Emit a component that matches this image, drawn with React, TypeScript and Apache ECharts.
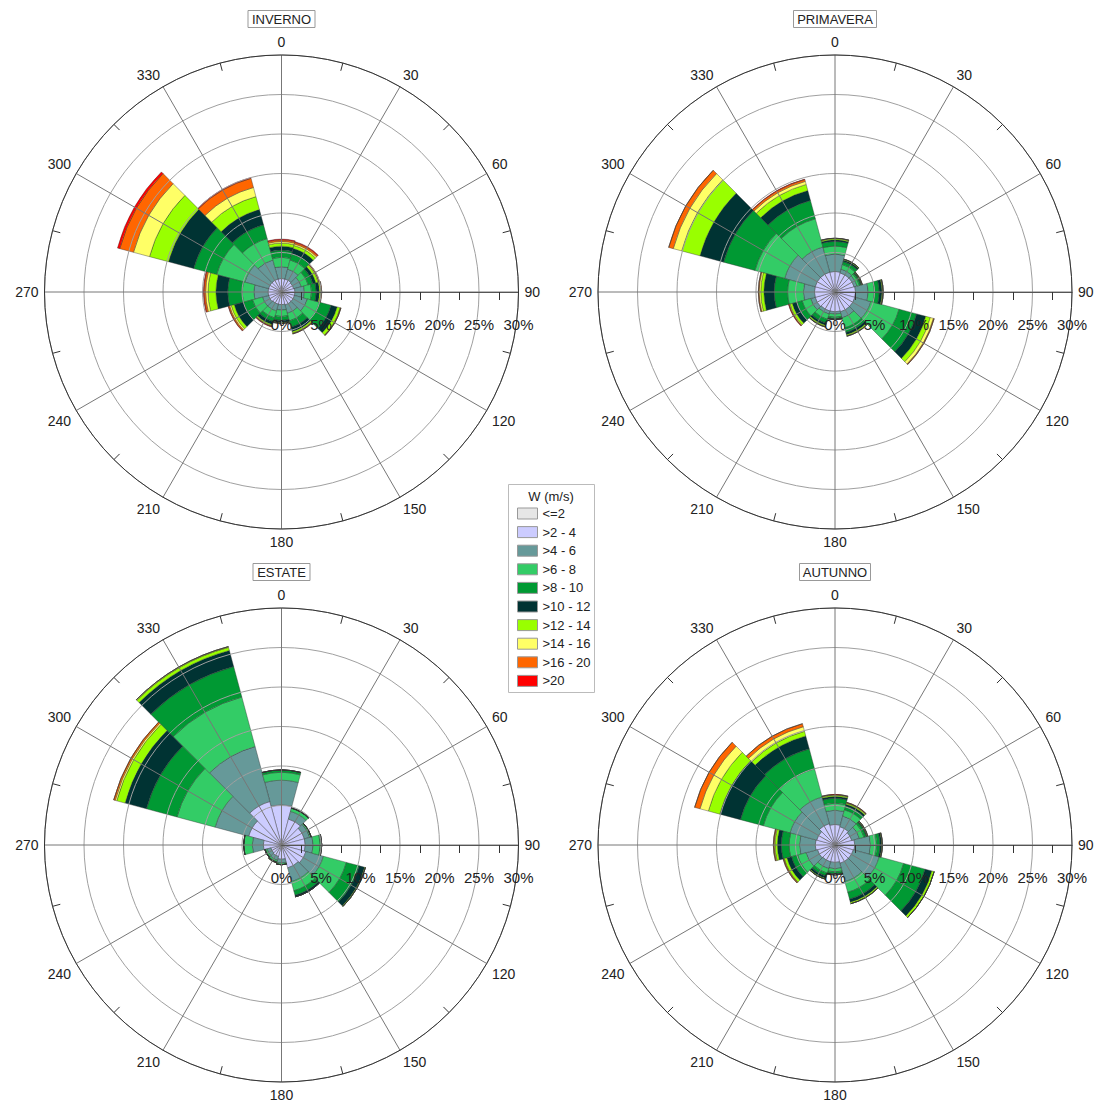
import React, { useEffect, useRef } from "react";
import * as echarts from "echarts";

const DIRECTIONS = ["0", "30", "60", "90", "120", "150", "180", "210", "240", "270", "300", "330"];
const CLASSES = ["<=2", ">2 - 4", ">4 - 6", ">6 - 8", ">8 - 10", ">10 - 12", ">12 - 14", ">14 - 16", ">16 - 20", ">20"];
const COLORS = ["#e6e6e6", "#ccccff", "#669999", "#33cc66", "#009933", "#003333", "#99ff00", "#ffff66", "#ff6600", "#ff0000"];
const SEASONS = ["INVERNO", "PRIMAVERA", "ESTATE", "AUTUNNO"];
const RADIUS_TICKS = [0, 5, 10, 15, 20, 25, 30];
const ANGLE_LABELS = ["90", "120", "150", "180", "210", "240", "270", "300", "330", "0", "30", "60"];

// frequency (%) per direction (rows, 0..330) and speed class (columns, <=2 .. >20)
const INVERNO = [
  [0.1, 1.6, 1.5, 1.2, 0.9, 0.5, 0.4, 0.2, 0.2, 0.1],
  [0.1, 1.6, 1.3, 1.2, 0.8, 0.7, 0.4, 0.2, 0.2, 0.1],
  [0.1, 1.5, 1.0, 0.9, 0.6, 0.4, 0.3, 0.1, 0.05, 0.05],
  [0.1, 1.6, 1.2, 0.9, 0.6, 0.4, 0.2, 0.05, 0.05, 0],
  [0.1, 1.6, 1.7, 1.6, 1.5, 0.8, 0.4, 0.05, 0.05, 0],
  [0.1, 1.6, 1.1, 1.0, 0.8, 0.6, 0.2, 0.05, 0.05, 0],
  [0.1, 1.5, 0.7, 0.8, 0.5, 0.25, 0.1, 0.05, 0, 0],
  [0.1, 1.5, 0.9, 0.9, 0.5, 0.4, 0.15, 0.05, 0.05, 0.05],
  [0.1, 1.6, 0.8, 1.3, 1.2, 1.2, 0.4, 0.2, 0.15, 0.05],
  [0.1, 1.6, 1.8, 1.5, 1.8, 1.5, 1.0, 0.3, 0.2, 0.1],
  [0.1, 1.6, 3.1, 3.7, 3.0, 3.3, 2.5, 2.1, 1.8, 0.3],
  [0.1, 1.6, 2.5, 2.8, 1.8, 2.0, 1.7, 1.2, 1.2, 0.1],
];
const PRIMAVERA = [
  [0.1, 2.5, 2.2, 1.0, 0.6, 0.2, 0.15, 0.05, 0, 0],
  [0.1, 2.4, 0.5, 0.6, 0.4, 0.2, 0.1, 0, 0, 0],
  [0.1, 2.4, 0.4, 0.3, 0.2, 0.1, 0.05, 0.05, 0, 0],
  [0.1, 2.5, 1.6, 0.8, 0.6, 0.35, 0.1, 0.05, 0, 0],
  [0.1, 2.5, 2.1, 3.7, 2.3, 1.2, 0.6, 0.4, 0.1, 0],
  [0.1, 2.5, 0.8, 1.3, 0.6, 0.3, 0.15, 0.05, 0, 0],
  [0.1, 2.4, 0.3, 0.4, 0.2, 0.1, 0, 0, 0, 0],
  [0.1, 2.4, 0.4, 0.7, 0.5, 0.3, 0.15, 0.05, 0, 0],
  [0.1, 2.5, 0.6, 1.1, 0.7, 0.6, 0.3, 0.1, 0.05, 0.05],
  [0.1, 2.5, 1.4, 2.0, 1.7, 1.3, 0.4, 0.2, 0.1, 0],
  [0.1, 2.5, 4.0, 3.9, 4.1, 3.1, 2.4, 1.1, 0.6, 0],
  [0.1, 2.5, 3.3, 3.7, 2.4, 1.3, 0.8, 0.4, 0.25, 0.05],
];
const ESTATE = [
  [0.1, 5.0, 3.1, 1.0, 0.3, 0, 0, 0, 0, 0],
  [0.1, 3.3, 1.0, 0.4, 0.05, 0, 0, 0, 0, 0],
  [0.1, 2.9, 0.7, 0.2, 0, 0, 0, 0, 0, 0],
  [0.1, 2.9, 1.0, 0.9, 0.2, 0, 0, 0, 0, 0],
  [0.1, 3.1, 2.3, 3.0, 1.7, 0.7, 0.1, 0, 0, 0],
  [0.1, 2.9, 1.8, 1.2, 0.6, 0.2, 0, 0, 0, 0],
  [0.1, 1.7, 0.5, 0.2, 0, 0, 0, 0, 0, 0],
  [0.1, 1.4, 0.5, 0.2, 0.05, 0.05, 0.02, 0.03, 0, 0],
  [0.1, 1.3, 0.5, 0.2, 0.05, 0.05, 0, 0, 0, 0],
  [0.1, 2.2, 1.4, 1.1, 0, 0, 0, 0, 0, 0],
  [0.1, 4.2, 4.4, 5.0, 4.0, 2.8, 1.1, 0.2, 0.2, 0],
  [0.1, 5.6, 7.2, 6.5, 4.0, 2.1, 0.4, 0.1, 0, 0],
];
const AUTUNNO = [
  [0.1, 2.5, 1.8, 0.9, 0.6, 0.25, 0.15, 0.05, 0.05, 0],
  [0.1, 2.3, 1.4, 0.8, 0.5, 0.25, 0.15, 0.05, 0.05, 0],
  [0.1, 2.1, 1.0, 0.6, 0.3, 0.1, 0.05, 0.05, 0, 0],
  [0.1, 2.4, 2.0, 0.8, 0.4, 0.2, 0.05, 0.05, 0, 0],
  [0.1, 2.3, 3.4, 3.2, 2.8, 0.9, 0.3, 0, 0, 0],
  [0.1, 2.3, 2.4, 1.4, 0.9, 0.4, 0.2, 0, 0, 0],
  [0.1, 2.1, 0.8, 0.4, 0.25, 0.1, 0.05, 0, 0, 0],
  [0.1, 2.1, 0.9, 0.6, 0.4, 0.3, 0.1, 0, 0, 0],
  [0.1, 2.2, 1.5, 1.1, 0.8, 0.6, 0.35, 0.05, 0.1, 0],
  [0.1, 2.4, 2.0, 1.3, 1.0, 0.5, 0.3, 0.1, 0.1, 0],
  [0.1, 2.3, 3.5, 3.5, 3.0, 2.7, 1.5, 1.1, 0.7, 0],
  [0.1, 2.7, 3.5, 3.7, 2.6, 1.7, 0.6, 0.6, 0.4, 0],
];
const SEASON_DATA = [INVERNO, PRIMAVERA, ESTATE, AUTUNNO];

const CENTERS = [
  [281.5, 292],
  [835, 292],
  [281.5, 845],
  [835, 845],
];
const TITLE_TOPS = [10, 10, 563, 563];
const RADIUS = 237;
const FONT = "'Liberation Sans', Arial, sans-serif";

function buildOption() {
  const polar: any[] = [];
  const angleAxis: any[] = [];
  const radiusAxis: any[] = [];
  const series: any[] = [];
  const title: any[] = [];

  SEASONS.forEach((name, s) => {
    const [cx, cy] = CENTERS[s];
    polar.push({ center: [cx, cy], radius: RADIUS });
    polar.push({ center: [cx, cy], radius: RADIUS });

    angleAxis.push({
      polarIndex: 2 * s,
      type: "value",
      min: 0,
      max: 360,
      interval: 30,
      startAngle: 0,
      clockwise: true,
      z: 5,
      axisLine: { show: true, lineStyle: { color: "#333", width: 1 } },
      axisTick: { show: false, inside: true },
      minorTick: { show: true, splitNumber: 2, length: 8, lineStyle: { color: "#333", width: 1 } },
      axisLabel: {
        showMaxLabel: false,
        margin: 6,
        fontSize: 14,
        fontFamily: FONT,
        color: "#222",
        formatter: (v: number) => ANGLE_LABELS[Math.round(v / 30) % 12],
      },
      splitLine: { show: true, lineStyle: { color: "#777", width: 1 } },
    });
    angleAxis.push({
      polarIndex: 2 * s + 1,
      type: "category",
      data: DIRECTIONS,
      startAngle: 105,
      clockwise: true,
      boundaryGap: true,
      axisLine: { show: false },
      axisTick: { show: false },
      axisLabel: { show: false },
      splitLine: { show: false },
    });

    radiusAxis.push({
      polarIndex: 2 * s,
      type: "value",
      min: RADIUS_TICKS[0],
      max: RADIUS_TICKS[RADIUS_TICKS.length - 1],
      interval: 5,
      z: 5,
      axisLine: { show: true, lineStyle: { color: "#555", width: 1 } },
      axisTick: { show: false },
      minorTick: { show: true, splitNumber: 2, length: -8, lineStyle: { color: "#333" } },
      axisLabel: {
        margin: -40,
        fontSize: 15,
        fontFamily: FONT,
        color: "#222",
        formatter: "{value}%",
      },
      splitLine: { show: true, lineStyle: { color: "#a0a0a0", width: 1 } },
    });
    radiusAxis.push({
      polarIndex: 2 * s + 1,
      type: "value",
      min: 0,
      max: 30,
      axisLine: { show: false },
      axisTick: { show: false },
      axisLabel: { show: false },
      splitLine: { show: false },
    });

    const rows = SEASON_DATA[s];
    CLASSES.forEach((cls, k) => {
      series.push({
        type: "bar",
        coordinateSystem: "polar",
        polarIndex: 2 * s + 1,
        stack: "rose" + s,
        name: cls,
        data: rows.map((r) => r[k]),
        barCategoryGap: "0%",
        itemStyle: { color: COLORS[k], borderColor: "#333", borderWidth: 0.4 },
        z: 2,
      });
    });

    title.push({
      text: name,
      left: cx - 4,
      top: TITLE_TOPS[s],
      textAlign: "center",
      borderColor: "#999",
      borderWidth: 1,
      padding: [3, 4, 2, 4],
      textStyle: { fontSize: 13, fontWeight: "normal", color: "#222", fontFamily: FONT },
    });
  });

  return {
    animation: false,
    backgroundColor: "#ffffff",
    title,
    polar,
    angleAxis,
    radiusAxis,
    series,
    legend: {
      data: CLASSES,
      orient: "vertical",
      left: 517,
      top: 507,
      padding: 0,
      itemGap: 5.6,
      itemWidth: 20,
      itemHeight: 11,
      icon: "rect",
      itemStyle: { borderColor: "#999", borderWidth: 1 },
      textStyle: { fontSize: 13, color: "#222", fontFamily: FONT },
    },
    graphic: [
      {
        type: "rect",
        shape: { x: 508.5, y: 484.5, width: 86, height: 208 },
        style: { fill: "none", stroke: "#bbb", lineWidth: 1 },
        z: 0,
      },
      {
        type: "text",
        x: 551,
        y: 496,
        style: {
          text: "W (m/s)",
          fontSize: 13,
          fontFamily: FONT,
          fill: "#222",
          textAlign: "center",
          textVerticalAlign: "middle",
        },
      },
    ],
  };
}

export default function App() {
  const ref = useRef<HTMLDivElement>(null);
  useEffect(() => {
    if (!ref.current) return;
    const chart = echarts.init(ref.current, undefined, { renderer: "svg" });
    chart.setOption(buildOption());
    return () => chart.dispose();
  }, []);
  return (
    <div
      ref={ref}
      style={{ position: "absolute", left: 0, top: 0, width: 1099, height: 1106, background: "#fff" }}
    />
  );
}
